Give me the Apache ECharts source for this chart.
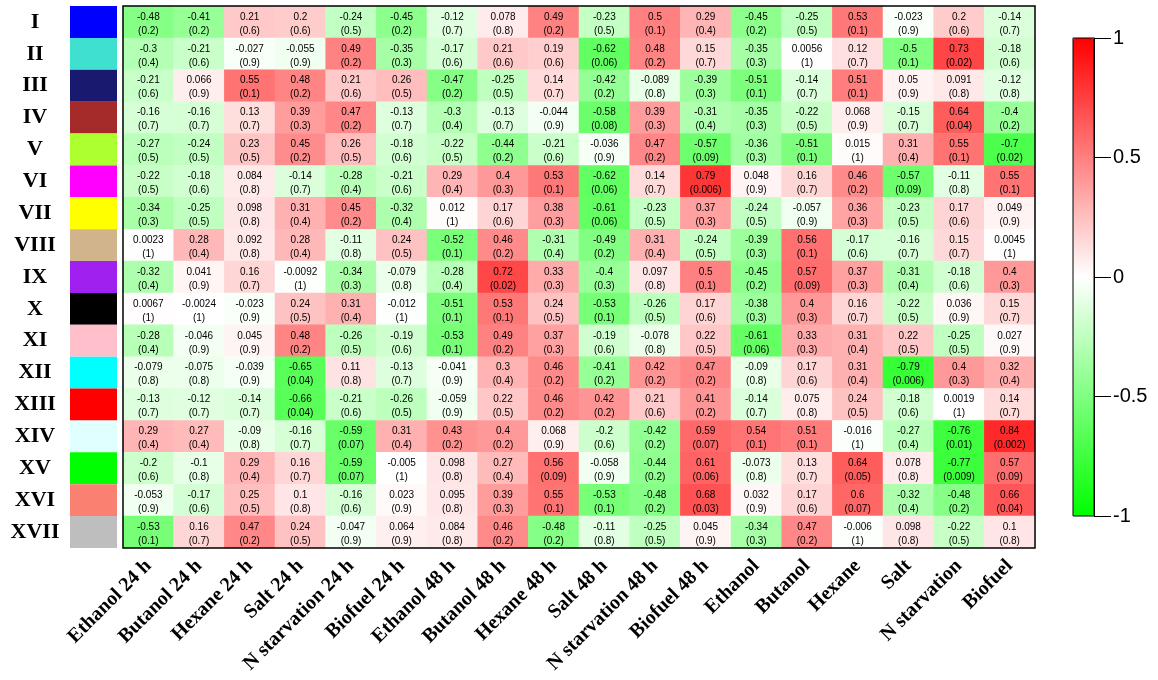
<!DOCTYPE html>
<html lang="en">
<head>
<meta charset="utf-8">
<title>Module-trait heatmap</title>
<script src="https://cdn.jsdelivr.net/npm/echarts@6/dist/echarts.min.js"></script>
<style>
html, body { margin: 0; padding: 0; background: #fff; }
#main { width: 1158px; height: 680px; }
</style>
</head>
<body>
<div id="main"></div>
<script>
// conditions (columns)
var conditions = ['Ethanol 24 h', 'Butanol 24 h', 'Hexane 24 h', 'Salt 24 h', 'N starvation 24 h', 'Biofuel 24 h',
	'Ethanol 48 h', 'Butanol 48 h', 'Hexane 48 h', 'Salt 48 h', 'N starvation 48 h', 'Biofuel 48 h',
	'Ethanol', 'Butanol', 'Hexane', 'Salt', 'N starvation', 'Biofuel'];

// modules (rows) and their colours
var modules = ['I', 'II', 'III', 'IV', 'V', 'VI', 'VII', 'VIII', 'IX', 'X', 'XI', 'XII', 'XIII', 'XIV', 'XV', 'XVI', 'XVII'];
var moduleColors = ['#0000ff', '#40e0d0', '#191970', '#a52a2a', '#adff2f', '#ff00ff', '#ffff00', '#d2b48c', '#a020f0',
	'#000000', '#ffc0cb', '#00ffff', '#ff0000', '#e0ffff', '#00ff00', '#fa8072', '#bebebe'];

// correlation per module (row), one value per condition
var corr = [
	[-0.48, -0.41, 0.21, 0.2, -0.24, -0.45, -0.12, 0.078, 0.49, -0.23, 0.5, 0.29, -0.45, -0.25, 0.53, -0.023, 0.2, -0.14],
	[-0.3, -0.21, -0.027, -0.055, 0.49, -0.35, -0.17, 0.21, 0.19, -0.62, 0.48, 0.15, -0.35, 0.0056, 0.12, -0.5, 0.73, -0.18],
	[-0.21, 0.066, 0.55, 0.48, 0.21, 0.26, -0.47, -0.25, 0.14, -0.42, -0.089, -0.39, -0.51, -0.14, 0.51, 0.05, 0.091, -0.12],
	[-0.16, -0.16, 0.13, 0.39, 0.47, -0.13, -0.3, -0.13, -0.044, -0.58, 0.39, -0.31, -0.35, -0.22, 0.068, -0.15, 0.64, -0.4],
	[-0.27, -0.24, 0.23, 0.45, 0.26, -0.18, -0.22, -0.44, -0.21, -0.036, 0.47, -0.57, -0.36, -0.51, 0.015, 0.31, 0.55, -0.7],
	[-0.22, -0.18, 0.084, -0.14, -0.28, -0.21, 0.29, 0.4, 0.53, -0.62, 0.14, 0.79, 0.048, 0.16, 0.46, -0.57, -0.11, 0.55],
	[-0.34, -0.25, 0.098, 0.31, 0.45, -0.32, 0.012, 0.17, 0.38, -0.61, -0.23, 0.37, -0.24, -0.057, 0.36, -0.23, 0.17, 0.049],
	[0.0023, 0.28, 0.092, 0.28, -0.11, 0.24, -0.52, 0.46, -0.31, -0.49, 0.31, -0.24, -0.39, 0.56, -0.17, -0.16, 0.15, 0.0045],
	[-0.32, 0.041, 0.16, -0.0092, -0.34, -0.079, -0.28, 0.72, 0.33, -0.4, 0.097, 0.5, -0.45, 0.57, 0.37, -0.31, -0.18, 0.4],
	[0.0067, -0.0024, -0.023, 0.24, 0.31, -0.012, -0.51, 0.53, 0.24, -0.53, -0.26, 0.17, -0.38, 0.4, 0.16, -0.22, 0.036, 0.15],
	[-0.28, -0.046, 0.045, 0.48, -0.26, -0.19, -0.53, 0.49, 0.37, -0.19, -0.078, 0.22, -0.61, 0.33, 0.31, 0.22, -0.25, 0.027],
	[-0.079, -0.075, -0.039, -0.65, 0.11, -0.13, -0.041, 0.3, 0.46, -0.41, 0.42, 0.47, -0.09, 0.17, 0.31, -0.79, 0.4, 0.32],
	[-0.13, -0.12, -0.14, -0.66, -0.21, -0.26, -0.059, 0.22, 0.46, 0.42, 0.21, 0.41, -0.14, 0.075, 0.24, -0.18, 0.0019, 0.14],
	[0.29, 0.27, -0.09, -0.16, -0.59, 0.31, 0.43, 0.4, 0.068, -0.2, -0.42, 0.59, 0.54, 0.51, -0.016, -0.27, -0.76, 0.84],
	[-0.2, -0.1, 0.29, 0.16, -0.59, -0.005, 0.098, 0.27, 0.56, -0.058, -0.44, 0.61, -0.073, 0.13, 0.64, 0.078, -0.77, 0.57],
	[-0.053, -0.17, 0.25, 0.1, -0.16, 0.023, 0.095, 0.39, 0.55, -0.53, -0.48, 0.68, 0.032, 0.17, 0.6, -0.32, -0.48, 0.66],
	[-0.53, 0.16, 0.47, 0.24, -0.047, 0.064, 0.084, 0.46, -0.48, -0.11, -0.25, 0.045, -0.34, 0.47, -0.006, 0.098, -0.22, 0.1]
];

// p-values, same layout
var pvals = [
	[0.2, 0.2, 0.6, 0.6, 0.5, 0.2, 0.7, 0.8, 0.2, 0.5, 0.1, 0.4, 0.2, 0.5, 0.1, 0.9, 0.6, 0.7],
	[0.4, 0.6, 0.9, 0.9, 0.2, 0.3, 0.6, 0.6, 0.6, 0.06, 0.2, 0.7, 0.3, 1, 0.7, 0.1, 0.02, 0.6],
	[0.6, 0.9, 0.1, 0.2, 0.6, 0.5, 0.2, 0.5, 0.7, 0.2, 0.8, 0.3, 0.1, 0.7, 0.1, 0.9, 0.8, 0.8],
	[0.7, 0.7, 0.7, 0.3, 0.2, 0.7, 0.4, 0.7, 0.9, 0.08, 0.3, 0.4, 0.3, 0.5, 0.9, 0.7, 0.04, 0.2],
	[0.5, 0.5, 0.5, 0.2, 0.5, 0.6, 0.5, 0.2, 0.6, 0.9, 0.2, 0.09, 0.3, 0.1, 1, 0.4, 0.1, 0.02],
	[0.5, 0.6, 0.8, 0.7, 0.4, 0.6, 0.4, 0.3, 0.1, 0.06, 0.7, 0.006, 0.9, 0.7, 0.2, 0.09, 0.8, 0.1],
	[0.3, 0.5, 0.8, 0.4, 0.2, 0.4, 1, 0.6, 0.3, 0.06, 0.5, 0.3, 0.5, 0.9, 0.3, 0.5, 0.6, 0.9],
	[1, 0.4, 0.8, 0.4, 0.8, 0.5, 0.1, 0.2, 0.4, 0.2, 0.4, 0.5, 0.3, 0.1, 0.6, 0.7, 0.7, 1],
	[0.4, 0.9, 0.7, 1, 0.3, 0.8, 0.4, 0.02, 0.3, 0.3, 0.8, 0.1, 0.2, 0.09, 0.3, 0.4, 0.6, 0.3],
	[1, 1, 0.9, 0.5, 0.4, 1, 0.1, 0.1, 0.5, 0.1, 0.5, 0.6, 0.3, 0.3, 0.7, 0.5, 0.9, 0.7],
	[0.4, 0.9, 0.9, 0.2, 0.5, 0.6, 0.1, 0.2, 0.3, 0.6, 0.8, 0.5, 0.06, 0.3, 0.4, 0.5, 0.5, 0.9],
	[0.8, 0.8, 0.9, 0.04, 0.8, 0.7, 0.9, 0.4, 0.2, 0.2, 0.2, 0.2, 0.8, 0.6, 0.4, 0.006, 0.3, 0.4],
	[0.7, 0.7, 0.7, 0.04, 0.6, 0.5, 0.9, 0.5, 0.2, 0.2, 0.6, 0.2, 0.7, 0.8, 0.5, 0.6, 1, 0.7],
	[0.4, 0.4, 0.8, 0.7, 0.07, 0.4, 0.2, 0.2, 0.9, 0.6, 0.2, 0.07, 0.1, 0.1, 1, 0.4, 0.01, 0.002],
	[0.6, 0.8, 0.4, 0.7, 0.07, 1, 0.8, 0.4, 0.09, 0.9, 0.2, 0.06, 0.8, 0.7, 0.05, 0.8, 0.009, 0.09],
	[0.9, 0.6, 0.5, 0.8, 0.6, 0.9, 0.8, 0.3, 0.1, 0.1, 0.2, 0.03, 0.9, 0.6, 0.07, 0.4, 0.2, 0.04],
	[0.1, 0.7, 0.2, 0.5, 0.9, 0.9, 0.8, 0.2, 0.2, 0.8, 0.5, 0.9, 0.3, 0.2, 1, 0.8, 0.5, 0.8]
];

var cells = [];
for (var r = 0; r < modules.length; r++) {
	for (var c = 0; c < conditions.length; c++) {
		cells.push([c, r, corr[r][c]]);
	}
}

var serif = '"Liberation Serif", "Times New Roman", serif';
var sans = '"Liberation Sans", Arial, sans-serif';

var myChart = echarts.init(document.getElementById('main'));

var option = {
	animation : false,
	backgroundColor : '#fff',
	grid : [
		// heatmap
		{ left : 123, top : 6, width : 912, height : 542, show : true, z : 3,
			borderColor : '#000', borderWidth : 1.5, backgroundColor : 'transparent' },
		// module colour column
		{ left : 70, top : 6, width : 47, height : 542 },
		// colour bar frame + scale
		{ left : 1073, top : 38, width : 21, height : 478, show : true, z : 6,
			borderColor : '#000', borderWidth : 1, backgroundColor : 'transparent' }
	],
	xAxis : [ {
		type : 'category',
		gridIndex : 0,
		data : conditions,
		axisLine : { show : false },
		axisTick : { show : false },
		axisLabel : {
			interval : 0,
			rotate : 45,
			margin : 15,
			color : '#000',
			fontFamily : serif,
			fontWeight : 'bold',
			fontSize : 20
		}
	}, {
		type : 'value', gridIndex : 1, min : 0, max : 1, show : false
	}, {
		type : 'value', gridIndex : 2, min : 0, max : 1, show : false
	} ],
	yAxis : [ {
		type : 'category',
		gridIndex : 0,
		data : modules,
		inverse : true,
		show : false
	}, {
		type : 'category',
		gridIndex : 1,
		data : modules,
		inverse : true,
		axisLine : { show : false },
		axisTick : { show : false },
		axisLabel : {
			align : 'center',
			margin : 35,
			color : '#000',
			fontFamily : serif,
			fontWeight : 'bold',
			fontSize : 22
		}
	}, {
		type : 'value',
		gridIndex : 2,
		position : 'right',
		min : -1,
		max : 1,
		interval : 0.5,
		splitLine : { show : false },
		axisLine : { show : true, onZero : false, lineStyle : { color : '#000', width : 1 } },
		axisTick : { show : true, length : 17, lineStyle : { color : '#000', width : 1 } },
		axisLabel : {
			margin : 19,
			color : '#000',
			fontFamily : sans,
			fontSize : 20
		}
	} ],
	visualMap : {
		type : 'continuous',
		min : -1,
		max : 1,
		seriesIndex : 0,
		dimension : 2,
		calculable : false,
		hoverLink : false,
		left : 1073,
		top : 38,
		padding : 0,
		itemWidth : 21,
		itemHeight : 478,
		inRange : { color : [ '#00ff00', '#ffffff', '#ff0000' ] }
	},
	series : [ {
		type : 'heatmap',
		xAxisIndex : 0,
		yAxisIndex : 0,
		data : cells,
		label : {
			show : true,
			color : '#000',
			fontFamily : sans,
			fontSize : 10,
			lineHeight : 14,
			offset : [ 0, 2 ],
			formatter : function(p) {
				return p.value[2] + '\n(' + pvals[p.value[1]][p.value[0]] + ')';
			}
		},
		emphasis : { disabled : true }
	}, {
		type : 'bar',
		xAxisIndex : 1,
		yAxisIndex : 1,
		barCategoryGap : '0%',
		silent : true,
		data : moduleColors.map(function(col) {
			return { value : 1, itemStyle : { color : col } };
		})
	} ]
};

myChart.setOption(option);
</script>
</body>
</html>
